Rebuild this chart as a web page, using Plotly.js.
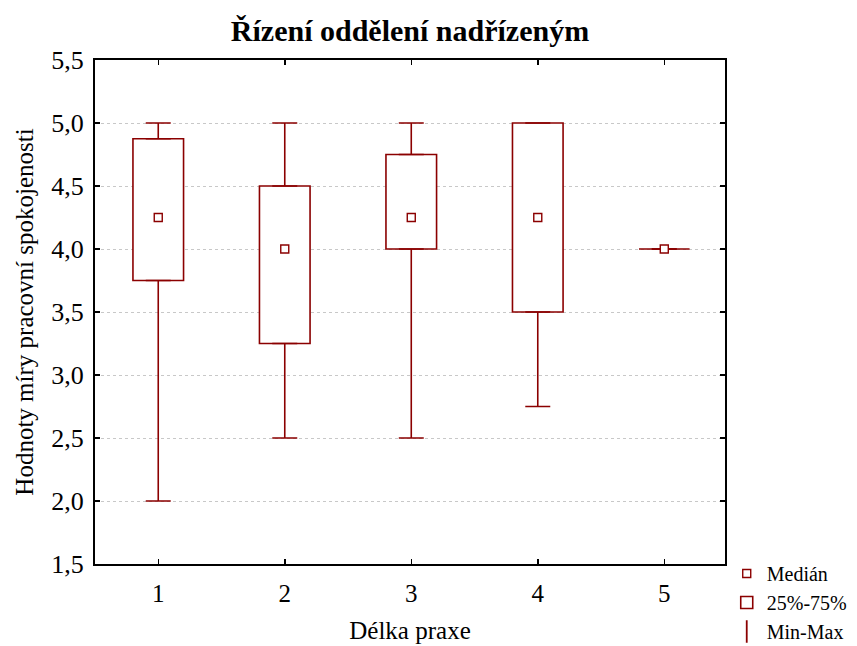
<!DOCTYPE html>
<html><head><meta charset="utf-8">
<script src="https://cdn.plot.ly/plotly-3.0.1.min.js"></script>
<style>body{margin:0;background:#fff}#chart{width:857px;height:646px}</style>
</head><body><div id="chart"></div>
<script>
const categories = [1, 2, 3, 4, 5];
const minVals    = [2.0, 2.5, 2.5, 2.75, 4.0];
const q1Vals     = [3.75, 3.25, 4.0, 3.5, 4.0];
const medianVals = [4.25, 4.0, 4.25, 4.25, 4.0];
const q3Vals     = [4.875, 4.5, 4.75, 5.0, 4.0];
const maxVals    = [5.0, 5.0, 5.0, 5.0, 4.0];
const yTicks = [1.5, 2.0, 2.5, 3.0, 3.5, 4.0, 4.5, 5.0, 5.5];

const RED = '#8B0000';
const FONT = 'Liberation Serif, Times New Roman, serif';

const boxTrace = {
  type: 'bar', x: categories, base: q1Vals,
  y: q3Vals.map((v, i) => v - q1Vals[i]),
  width: 0.4, marker: {color: 'white', line: {color: RED, width: 1.6}},
  name: '25%-75%', legendrank: 2, hoverinfo: 'skip'
};
const upperWhisker = {
  type: 'scatter', mode: 'markers', x: categories, y: q3Vals,
  marker: {size: 0, opacity: 0},
  error_y: {type: 'data', symmetric: false, array: maxVals.map((v, i) => v - q3Vals[i]),
            arrayminus: q3Vals.map(() => 0), color: RED, thickness: 1.6, width: 12.5},
  showlegend: false, hoverinfo: 'skip'
};
const lowerWhisker = {
  type: 'scatter', mode: 'markers', x: categories, y: q1Vals,
  marker: {size: 0, opacity: 0},
  error_y: {type: 'data', symmetric: false, array: q1Vals.map(() => 0),
            arrayminus: q1Vals.map((v, i) => v - minVals[i]), color: RED, thickness: 1.6, width: 12.5},
  showlegend: false, hoverinfo: 'skip'
};
const medianTrace = {
  type: 'scatter', mode: 'markers', x: categories, y: medianVals,
  marker: {symbol: 'square', size: 8, color: 'white', line: {color: RED, width: 1.4}},
  name: 'Medián', legendrank: 1
};
const legendMinMax = {
  type: 'scatter', mode: 'markers', x: [null], y: [null],
  marker: {symbol: 'line-ns-open', size: 20, color: RED, line: {color: RED, width: 1.8}},
  name: 'Min-Max', legendrank: 3
};

const layout = {
  width: 857, height: 646,
  margin: {l: 95, r: 132, t: 60, b: 82},
  paper_bgcolor: 'white', plot_bgcolor: 'white',
  separators: ', ',
  font: {family: FONT, color: '#000', size: 25},
  title: {text: '<b>Řízení oddělení nadřízeným</b>', font: {family: FONT, size: 30, color: '#000'},
          x: 0.5, xanchor: 'center', xref: 'paper', yref: 'container', y: 0.953, yanchor: 'middle'},
  showlegend: true,
  legend: {xref: 'container', yref: 'container', x: 0.848, xanchor: 'left', y: 0.1424, yanchor: 'top',
           font: {family: FONT, size: 20}, itemwidth: 30, bgcolor: 'rgba(0,0,0,0)', traceorder: 'normal'},
  xaxis: {range: [0.5, 5.48], tickvals: categories, ticktext: categories.map(String),
          ticks: 'inside', ticklen: 5, tickwidth: 1.5, tickcolor: '#000',
          showline: true, linecolor: '#000', linewidth: 2, mirror: 'ticks',
          showgrid: false, zeroline: false, tickfont: {size: 25}, ticklabelstandoff: 6,
          title: {text: 'Délka praxe', font: {size: 25}, standoff: 15}},
  yaxis: {range: [1.5, 5.5], tickvals: yTicks, tickformat: '.1f',
          ticks: 'inside', ticklen: 5, tickwidth: 1.5, tickcolor: '#000',
          showline: true, linecolor: '#000', linewidth: 2, mirror: 'ticks',
          showgrid: true, gridcolor: '#c8c8c8', griddash: 'dot', gridwidth: 1,
          zeroline: false, tickfont: {size: 26}, ticklabelstandoff: 4,
          title: {text: 'Hodnoty míry pracovní spokojenosti', font: {size: 25}, standoff: 11}},
  barmode: 'overlay'
};

Plotly.newPlot('chart', [boxTrace, upperWhisker, lowerWhisker, medianTrace, legendMinMax], layout,
  {displayModeBar: false, staticPlot: true});
</script></body></html>
